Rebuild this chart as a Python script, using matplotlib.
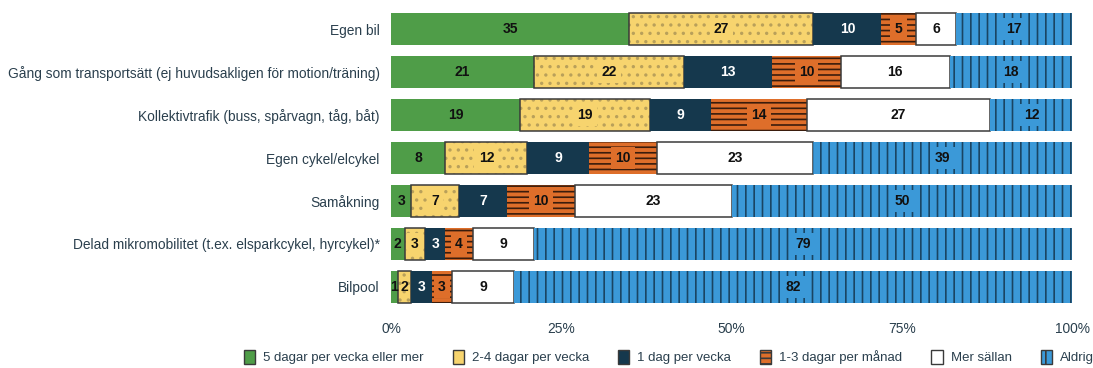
import matplotlib
matplotlib.use('Agg')
import matplotlib.pyplot as plt
from matplotlib.patches import Patch
import numpy as np

# survey answers, % of respondents
categories = [
    'Egen bil',
    'Gång som transportsätt (ej huvudsakligen för motion/träning)',
    'Kollektivtrafik (buss, spårvagn, tåg, båt)',
    'Egen cykel/elcykel',
    'Samåkning',
    'Delad mikromobilitet (t.ex. elsparkcykel, hyrcykel)*',
    'Bilpool',
]
series_names = ['5 dagar per vecka eller mer', '2-4 dagar per vecka', '1 dag per vecka',
                '1-3 dagar per månad', 'Mer sällan', 'Aldrig']
five_plus = [35, 21, 19, 8, 3, 2, 1]
two_four = [27, 22, 19, 12, 7, 3, 2]
one_day = [10, 13, 9, 9, 7, 3, 3]
one_three_month = [5, 10, 14, 10, 10, 4, 3]
more_rarely = [6, 16, 27, 23, 23, 9, 9]
never = [17, 18, 12, 38, 50, 79, 82]
never_labels = [17, 18, 12, 39, 50, 79, 82]
xticks = [0, 25, 50, 75, 100]

series = [five_plus, two_four, one_day, one_three_month, more_rarely, never]
labels = [five_plus, two_four, one_day, one_three_month, more_rarely, never_labels]

fill_colors = ['#4f9d48', '#f7d46e', '#15384d', '#de6e2a', '#ffffff', '#3b99d8']
hatches = [None, '..', None, '---', None, '||']
hatch_colors = [None, '#b9a05a', None, '#3a1c0c', None, '#1a4563']
borders = [False, True, False, False, True, False]
text_colors = ['#111111', '#111111', '#ffffff', '#111111', '#111111', '#111111']
edge_dark = '#3a3a3a'
label_color = '#2a3f4d'

plt.rcParams['font.family'] = ['Liberation Sans', 'DejaVu Sans']
plt.rcParams['hatch.linewidth'] = 1.2

fig = plt.figure(figsize=(10.93, 3.68), dpi=100)
ax = fig.add_axes([0.3577, 0.1617, 0.6233, 0.8179])

y = np.arange(len(categories))
left = np.zeros(len(categories))
for i, vals in enumerate(series):
    vals = np.array(vals, dtype=float)
    ax.barh(y, vals, left=left, height=0.74, color=fill_colors[i], edgecolor='none', linewidth=0)
    if hatches[i]:
        ax.barh(y, vals, left=left, height=0.74, fill=False, hatch=hatches[i],
                edgecolor=hatch_colors[i], linewidth=0)
    if borders[i]:
        ax.barh(y, vals, left=left, height=0.74, fill=False, edgecolor=edge_dark, linewidth=1.1)
    for j, v in enumerate(vals):
        # tiny segments: no background box, it would spill over the neighbours
        if v >= 3:
            box = dict(boxstyle='square,pad=0.3', fc=fill_colors[i], ec='none')
        else:
            box = None
        ax.text(left[j] + v / 2, y[j], str(labels[i][j]), ha='center', va='center',
                fontsize=10, fontweight='bold', color=text_colors[i], zorder=5, bbox=box)
    left += vals

ax.set_xlim(0, 100)
ax.set_ylim(len(categories) - 0.5, -0.5)
ax.set_yticks(y)
ax.set_yticklabels(categories, fontsize=9.9, color=label_color)
ax.set_xticks(xticks)
ax.set_xticklabels([f'{t}%' for t in xticks], fontsize=9.9, color=label_color)
ax.tick_params(axis='both', length=0)
ax.tick_params(axis='y', pad=8)
ax.tick_params(axis='x', pad=10)
for s in ax.spines.values():
    s.set_visible(False)

handles = []
for i, name in enumerate(series_names):
    handles.append(Patch(facecolor=fill_colors[i], edgecolor=edge_dark, linewidth=1,
                         hatch=hatches[i] if hatches[i] in ('---', '||') else None, label=name))
fig.legend(handles=handles, loc='center', bbox_to_anchor=(0.612, 0.03), ncol=6, frameon=False,
           fontsize=9.5, handlelength=0.85, handleheight=1.3, handletextpad=0.6,
           columnspacing=2.2, labelcolor=label_color)

fig.savefig('out.png', dpi=100)
